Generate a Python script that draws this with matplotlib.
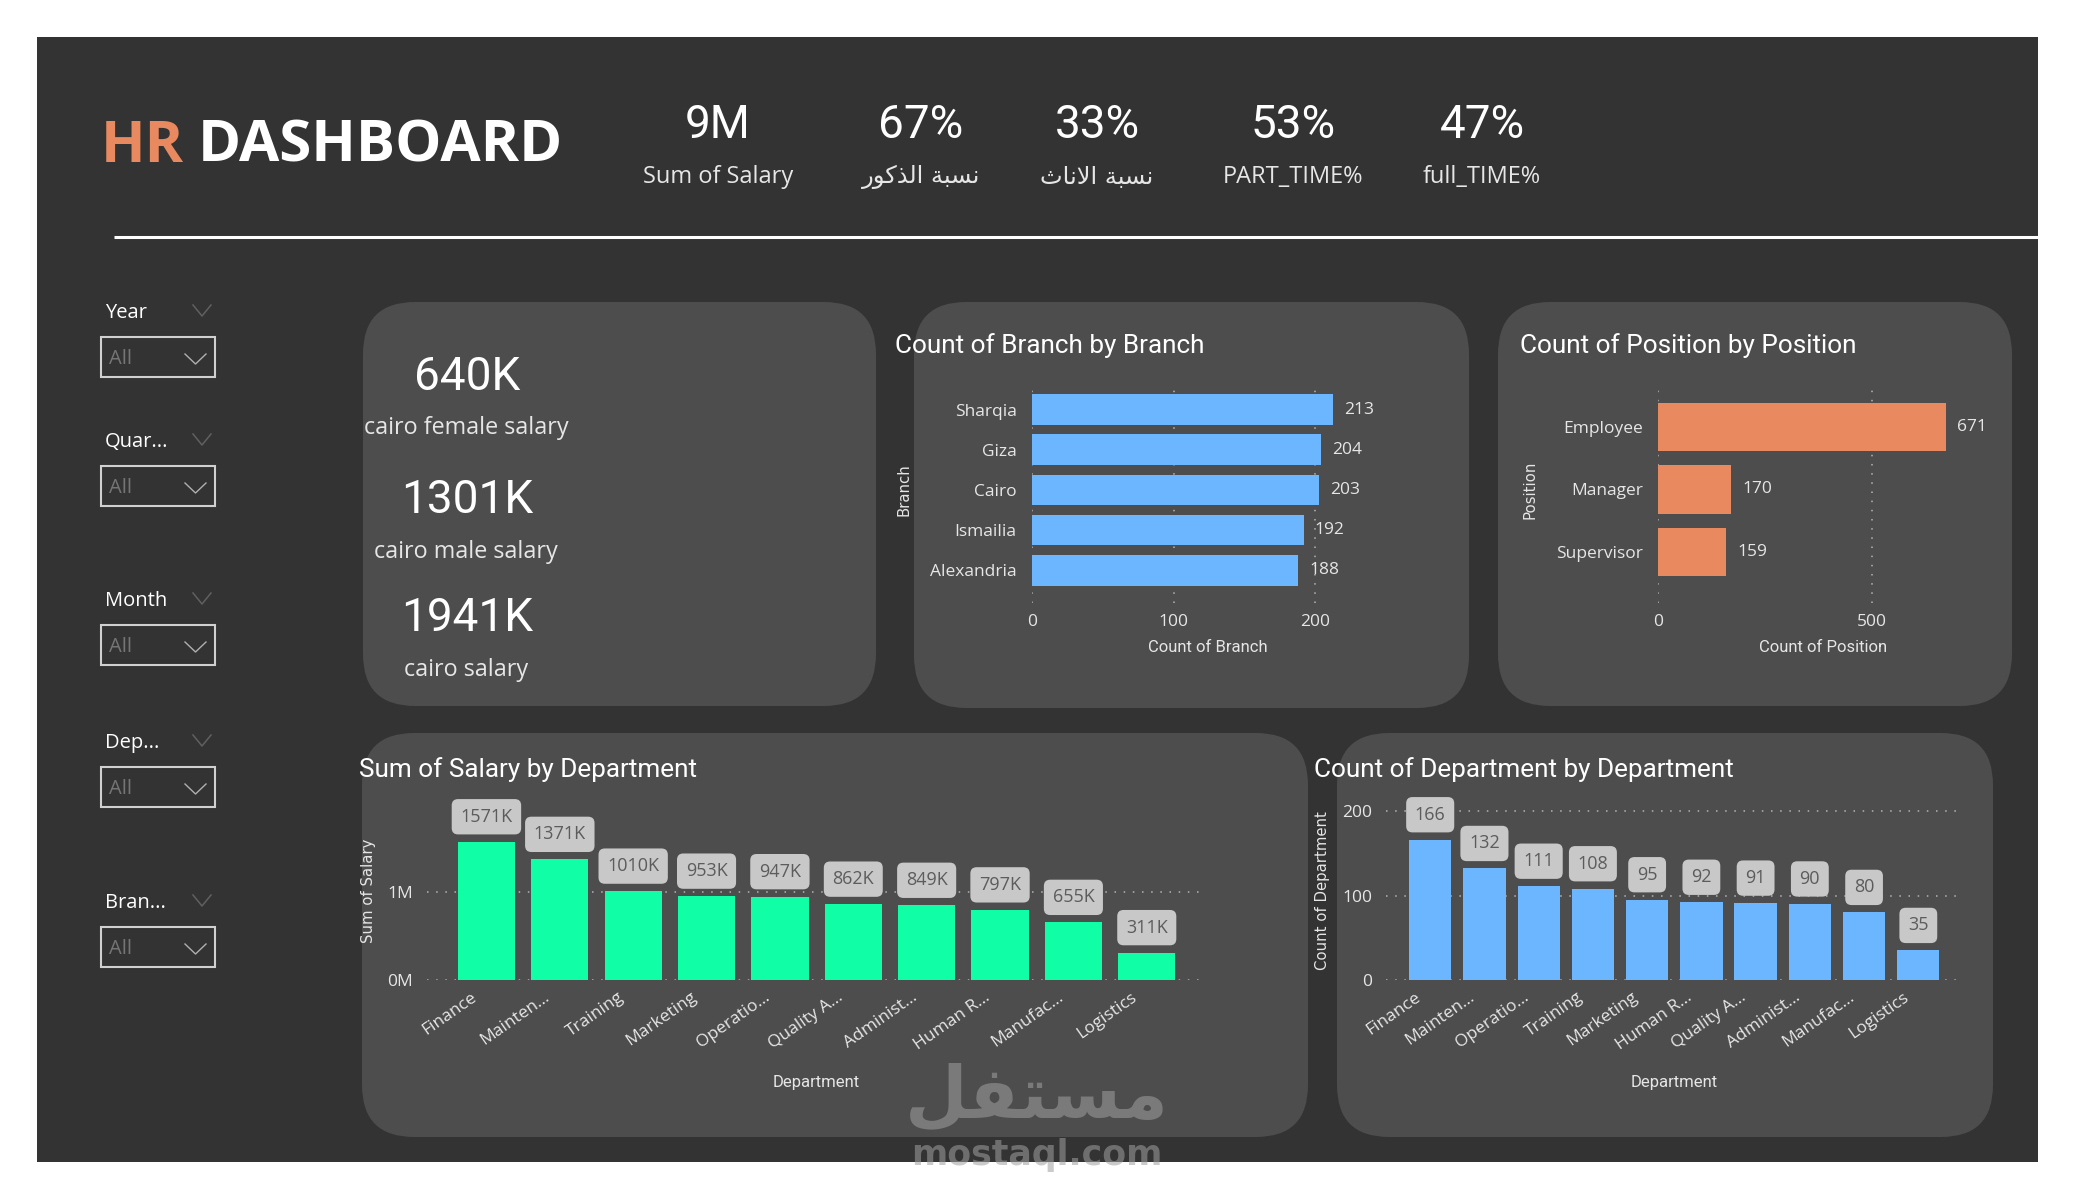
"""HR dashboard rebuilt with matplotlib. Layout numbers are in screen pixels."""
import matplotlib
matplotlib.use("Agg")
import matplotlib.pyplot as plt
from matplotlib.patches import FancyBboxPatch, Rectangle
from matplotlib.transforms import ScaledTranslation

W, H = 2075, 1200
BG = "#333333"
PANEL = "#4d4d4d"
BLUE = "#6cb6ff"
ORANGE = "#e8895f"
GREEN = "#10ffa6"
GRID = "#b4b4b4"
SOFT = "#e6e6e6"

plt.rcParams["font.family"] = ["Open Sans", "DejaVu Sans"]

# Arabic strings are in presentation forms, visual order: matplotlib does no shaping.
MALE_AR = "\ufead\ufeee\ufedb\ufeac\ufedf\ufe8d \ufe94\ufe92\ufeb4\ufee7"
FEMALE_AR = "\ufe99\ufe8e\ufee7\ufefb\ufe8d \ufe94\ufe92\ufeb4\ufee7"
MARK_AR = "\ufede\ufed4\ufe98\ufeb4\ufee3"

kpi_values = ["9M", "67%", "33%", "53%", "47%"]
kpi_labels = ["Sum of Salary", MALE_AR, FEMALE_AR, "PART_TIME%", "full_TIME%"]
kpi_x = [718, 921, 1097, 1293, 1482]

cairo_values = ["640K", "1301K", "1941K"]
cairo_labels = ["cairo female salary", "cairo male salary", "cairo salary"]

filter_names = ["Year", "Quar...", "Month", "Dep...", "Bran..."]
filter_tops = [337, 466, 625, 767, 927]

branches = ["Sharqia", "Giza", "Cairo", "Ismailia", "Alexandria"]
branch_counts = [213, 204, 203, 192, 188]
positions = ["Employee", "Manager", "Supervisor"]
position_counts = [671, 170, 159]

salary_depts = ["Finance", "Mainten...", "Training", "Marketing", "Operatio...",
                "Quality A...", "Administ...", "Human R...", "Manufac...", "Logistics"]
salary_k = [1571, 1371, 1010, 953, 947, 862, 849, 797, 655, 311]
count_depts = ["Finance", "Mainten...", "Operatio...", "Training", "Marketing",
               "Human R...", "Quality A...", "Administ...", "Manufac...", "Logistics"]
dept_counts = [166, 132, 111, 108, 95, 92, 91, 90, 80, 35]

fig = plt.figure(figsize=(W / 100, H / 100), dpi=100, facecolor="white")

# full-figure layer in pixel coordinates for the page furniture
page = fig.add_axes([0, 0, 1, 1], zorder=0)
page.set_xlim(0, W)
page.set_ylim(H, 0)
page.axis("off")
page.add_patch(Rectangle((37, 37), 2001, 1125, fc=BG, ec="none"))
page.plot([114, 2038], [237, 237], color="white", lw=2.2, solid_capstyle="butt")

for x0, y0, x1, y1 in [(363, 302, 876, 706), (914, 302, 1469, 708), (1498, 302, 2012, 706),
                       (362, 733, 1308, 1137), (1337, 733, 1993, 1137)]:
    page.add_patch(FancyBboxPatch((x0, y0), x1 - x0, y1 - y0, fc=PANEL, ec="none",
                                  boxstyle="round,pad=0,rounding_size=52"))

# header
page.text(101, 147, "HR", color=ORANGE, fontsize=42, fontweight="bold", va="center")
page.text(198, 147, "DASHBOARD", color="white", fontsize=42, fontweight="bold", va="center")

for x, val, lab in zip(kpi_x, kpi_values, kpi_labels):
    page.text(x, 125, val, color="white", family="Roboto", fontsize=33, ha="center", va="center")
    is_ar = lab in (MALE_AR, FEMALE_AR)
    page.text(x, 177, lab, color=SOFT, family="DejaVu Sans" if is_ar else "Open Sans",
              fontsize=17.4 if is_ar else 17, ha="center", va="center")

# cairo cards
for i, (val, lab) in enumerate(zip(cairo_values, cairo_labels)):
    page.text(467, [377, 500, 618][i], val, color="white", family="Roboto", fontsize=33,
              ha="center", va="center")
    page.text(466, [428, 552, 670][i], lab, color=SOFT, fontsize=16.8, ha="center", va="center")

# slicers
for top, name in zip(filter_tops, filter_names):
    page.text(105, top - 24, name, color="white", fontsize=14.5, fontweight="medium", va="center")
    page.plot([193, 202, 211], [top - 32, top - 21, top - 32], color="#606060", lw=1.1)
    page.add_patch(Rectangle((101, top), 114, 40, fc="none", ec="#d0d0d0", lw=1.5))
    page.text(109, top + 22, "All", color="#757575", fontsize=14.5, va="center")
    page.plot([185, 195.5, 206], [top + 17, top + 27, top + 17], color="#b0b0b0", lw=1.0)


def px_axes(left, top, right, bottom):
    ax = fig.add_axes([left / W, 1 - bottom / H, (right - left) / W, (bottom - top) / H], zorder=2)
    ax.patch.set_alpha(0)
    for s in ax.spines.values():
        s.set_visible(False)
    ax.tick_params(length=0, labelsize=12.5, labelcolor=SOFT)
    ax.set_axisbelow(True)
    return ax


def hbar_panel(ax, names, values, color, xticks):
    ax.barh(names, values, height=0.77, color=color)
    ax.set_xticks(xticks)
    ax.grid(axis="x", color=GRID, lw=1.1, ls=(0, (1, 5)))
    ax.tick_params(axis="x", pad=8)
    ax.tick_params(axis="y", pad=11)
    for c in ax.containers:
        ax.bar_label(c, padding=8, color=SOFT, fontsize=12.5)


def column_panel(ax, names, values, color, yticks, ylabels, xlim, offset_pt):
    ax.bar(names, values, width=0.78, color=color)
    ax.set_yticks(yticks, ylabels)
    ax.set_xlim(*xlim)
    ax.grid(axis="y", color=GRID, lw=1.1, ls=(0, (1, 5)))
    ax.tick_params(axis="x", pad=6.5)
    ax.tick_params(axis="y", pad=10)
    shift = ScaledTranslation(-16 / 100, 0, fig.dpi_scale_trans)
    for lab in ax.get_xticklabels():
        lab.set(rotation=35, ha="right", va="top", rotation_mode="anchor")
        lab.set_transform(lab.get_transform() + shift)
    suffix = "K" if yticks[-1] == 1000 else ""
    for i, v in enumerate(values):
        ax.annotate(f"{v}{suffix}", (i, v), xytext=(0, offset_pt), textcoords="offset points",
                    ha="center", va="center", color="#5c5c5c", fontsize=13, zorder=5,
                    bbox=dict(boxstyle="round,pad=0.48,rounding_size=0.35", fc="#c8c8c8", ec="none"))


# branch bars: 0 at x=1032, 1.415 px per count, band of 40 px
ax_branch = px_axes(1032, 383, 1400, 603)
ax_branch.set_xlim(0, 368 / 1.415)
hbar_panel(ax_branch, branches, branch_counts, BLUE, [0, 100, 200])
ax_branch.set_ylim(4.82, -0.67)

# position bars: 0 at x=1658, 0.4286 px per count, band of 62.5 px
ax_pos = px_axes(1658, 383, 2000, 603)
ax_pos.set_xlim(0, 342 / 0.4286)
hbar_panel(ax_pos, positions, position_counts, ORANGE, [0, 500])
ax_pos.set_ylim(2.816, -0.704)

# salary columns: baseline y=980, 88 px per 1000K
ax_sal = px_axes(427, 790, 1204, 980)
column_panel(ax_sal, salary_depts, salary_k, GREEN, [0, 1000], ["0M", "1M"], (-0.81, 9.78), 18)
ax_sal.set_ylim(0, 190 / 0.088)

# department columns: baseline y=980, 84.5 px per 100
ax_cnt = px_axes(1386, 790, 1959, 980)
column_panel(ax_cnt, count_depts, dept_counts, BLUE, [0, 100, 200], ["0", "100", "200"], (-0.815, 9.75), 18)
ax_cnt.set_ylim(0, 190 / 0.845)

# chart titles and axis titles
for x, y, t in [(895, 346, "Count of Branch by Branch"), (1520, 346, "Count of Position by Position"),
                (359, 770, "Sum of Salary by Department"), (1314, 770, "Count of Department by Department")]:
    page.text(x, y, t, color="white", family="Roboto", fontsize=18.8, va="center")
for x, y, t in [(1208, 647, "Count of Branch"), (1823, 647, "Count of Position"),
                (816, 1083, "Department"), (1674, 1083, "Department")]:
    page.text(x, y, t, color=SOFT, family="Roboto", fontsize=12, ha="center", va="center")
for x, y, t in [(904, 490, "Branch"), (1530, 490, "Position"),
                (368, 891, "Sum of Salary"), (1323, 891, "Count of Department")]:
    page.text(x, y, t, color=SOFT, family="DejaVu Sans", fontsize=10.7, rotation=90, ha="center", va="center")

# watermark over everything
fig.text(1037 / W, 1 - 1098 / H, MARK_AR, color="#a0a0a0", alpha=0.55, family="DejaVu Sans",
         fontweight="bold", fontsize=52, ha="center", va="center", zorder=10)
fig.text(1037 / W, 1 - 1155 / H, "mostaql.com", color="#a0a0a0", alpha=0.55, family="DejaVu Sans",
         fontweight="bold", fontsize=25, ha="center", va="center", zorder=10)

fig.savefig("out.png", dpi=100, facecolor="white")
